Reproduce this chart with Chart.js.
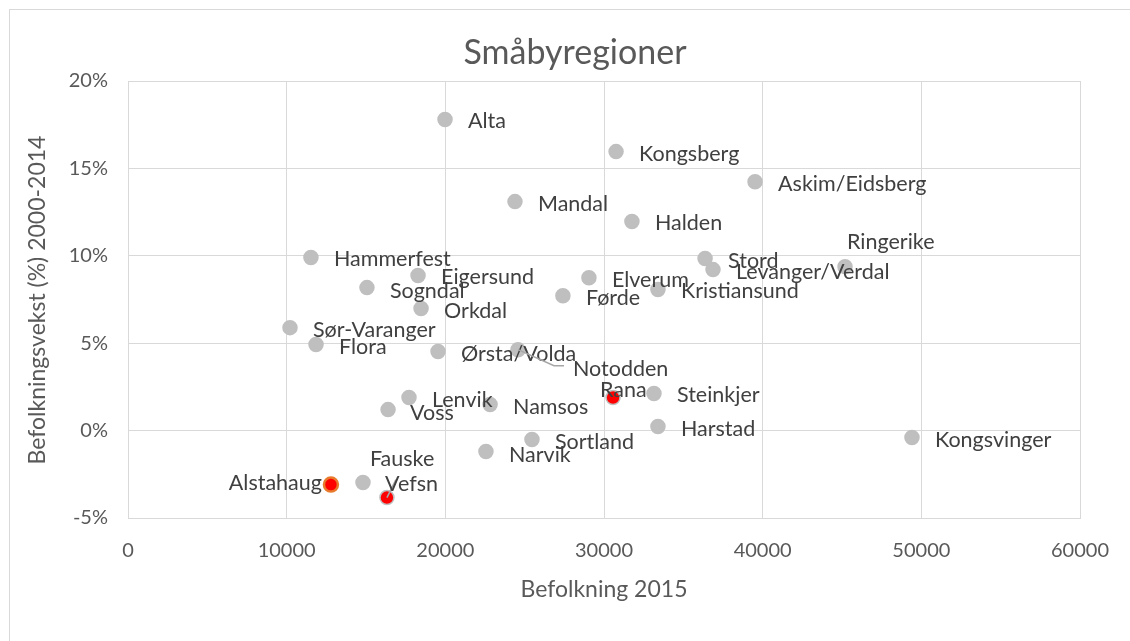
<!DOCTYPE html>
<html>
<head>
<meta charset="utf-8">
<title>Småbyregioner</title>
<script src="https://cdn.jsdelivr.net/npm/chart.js@4"></script>
<style>
  html, body { margin: 0; padding: 0; background: #fff; }
  #wrap { width: 1130px; height: 641px; position: relative; }
</style>
</head>
<body>
<div id="wrap"><canvas id="chart" width="1130" height="641"></canvas></div>
<script>
Chart.defaults.font.family = "Lato, 'Noto Sans', sans-serif";
Chart.defaults.color = '#595959';

// Regions and their values
const regions = [
  'Alta', 'Kongsberg', 'Askim/Eidsberg', 'Mandal', 'Halden', 'Ringerike',
  'Stord', 'Levanger/Verdal', 'Hammerfest', 'Eigersund', 'Sogndal', 'Elverum',
  'Førde', 'Kristiansund', 'Orkdal', 'Sør-Varanger', 'Flora', 'Ørsta/Volda',
  'Notodden', 'Rana', 'Steinkjer', 'Lenvik', 'Namsos', 'Voss', 'Harstad',
  'Kongsvinger', 'Sortland', 'Narvik', 'Fauske', 'Alstahaug', 'Vefsn'
];
const population2015 = [
  19980, 30760, 39520, 24390, 31760, 45190,
  36370, 36870, 11530, 18280, 15060, 29050,
  27410, 33400, 18470, 10210, 11850, 19540,
  24580, 30570, 33150, 17710, 22820, 16390, 33400,
  49410, 25460, 22560, 14810, 12790, 16320
];
const growth2000to2014 = [
  17.8, 15.96, 14.24, 13.1, 11.96, 9.38,
  9.84, 9.21, 9.9, 8.87, 8.18, 8.75,
  7.72, 8.07, 6.98, 5.89, 4.92, 4.52,
  4.63, 1.89, 2.12, 1.89, 1.49, 1.2, 0.23,
  -0.4, -0.51, -1.2, -2.97, -3.09, -3.83
];
const xTicks = [0, 10000, 20000, 30000, 40000, 50000, 60000];
const yTicks = [-5, 0, 5, 10, 15, 20];

// Label placement relative to each marker: [dx, dy, align]
const labelPlacement = {
  'Ringerike': [2, -25, 'left'],
  'Notodden': [55, 19, 'left'],
  'Rana': [-13, -8, 'left'],
  'Fauske': [7, -23, 'left'],
  'Alstahaug': [-9, -2, 'right'],
  'Vefsn': [-2, -13, 'left'],
  'Sogndal': [23, 3, 'left'],
  'Namsos': [23, 3, 'left'],
  'Voss': [22, 3, 'left'],
  'Sortland': [23, 3, 'left'],
  'Narvik': [23, 3, 'left']
};
const leaderLines = {
  'Notodden': [[36, 16], [46, 16]],
  'Vefsn': [[9, -18]]
};

const grey = '#bfbfbf';
const fillFor = name => (name === 'Rana' || name === 'Vefsn' || name === 'Alstahaug') ? '#ff0000' : grey;
const borderFor = name => name === 'Alstahaug' ? '#e87a2c' : grey;

const points = regions.map((r, i) => ({ x: population2015[i], y: growth2000to2014[i] }));

const PLOT = { left: 128, right: 1080, top: 81, bottom: 518 };
const FONT = "Lato, 'Noto Sans', sans-serif";

const decorPlugin = {
  id: 'decor',
  beforeDraw(chart) {
    const ctx = chart.ctx;
    ctx.save();
    ctx.strokeStyle = '#d9d9d9';
    ctx.lineWidth = 1;
    ctx.strokeRect(9.5, 9.5, 1400, 900);
    ctx.restore();
  },
  afterDraw(chart) {
    const ctx = chart.ctx;
    ctx.save();
    ctx.fillStyle = '#595959';
    ctx.textAlign = 'center';
    ctx.textBaseline = 'middle';
    ctx.font = '34px ' + FONT;
    ctx.fillText('Småbyregioner', 575, 53);
    ctx.font = '23px ' + FONT;
    ctx.fillText('Befolkning 2015', 604, 590);
    ctx.translate(38, 300);
    ctx.rotate(-Math.PI / 2);
    ctx.fillText('Befolkningsvekst (%) 2000-2014', 0, 0);
    ctx.restore();
  }
};

const labelPlugin = {
  id: 'pointLabels',
  afterDatasetsDraw(chart) {
    const ctx = chart.ctx;
    const meta = chart.getDatasetMeta(0);
    ctx.save();
    ctx.font = '21.5px ' + FONT;
    ctx.textBaseline = 'middle';
    meta.data.forEach((pt, i) => {
      const name = regions[i];
      const lines = leaderLines[name];
      if (lines) {
        ctx.strokeStyle = '#a6a6a6';
        ctx.lineWidth = 1.5;
        ctx.beginPath();
        ctx.moveTo(pt.x, pt.y);
        lines.forEach(([dx, dy]) => ctx.lineTo(pt.x + dx, pt.y + dy));
        ctx.stroke();
      }
      const [dx, dy, align] = labelPlacement[name] || [23, 2, 'left'];
      ctx.fillStyle = '#404040';
      ctx.textAlign = align;
      ctx.fillText(name, pt.x + dx, pt.y + dy);
    });
    ctx.restore();
  }
};

new Chart(document.getElementById('chart'), {
  type: 'scatter',
  data: {
    datasets: [{
      label: 'Småbyregioner',
      data: points,
      pointRadius: 7,
      pointHoverRadius: 7,
      pointBorderWidth: regions.map(r => r === 'Alstahaug' ? 2.5 : 1.5),
      pointBackgroundColor: regions.map(fillFor),
      pointBorderColor: regions.map(borderFor)
    }]
  },
  options: {
    responsive: false,
    animation: false,
    events: [],
    layout: { padding: { left: 0, top: PLOT.top, right: 1130 - PLOT.right - 3, bottom: 0 } },
    plugins: {
      legend: { display: false },
      title: { display: false },
      tooltip: { enabled: false }
    },
    scales: {
      x: {
        type: 'linear',
        min: xTicks[0],
        max: xTicks[xTicks.length - 1],
        afterBuildTicks: s => { s.ticks = xTicks.map(v => ({ value: v })); },
        afterFit: s => { s.height = 641 - PLOT.bottom; },
        grid: { color: '#d9d9d9', drawTicks: false },
        border: { color: '#d9d9d9' },
        ticks: { padding: 21, font: { size: 20 }, color: '#595959', maxRotation: 0, callback: v => String(v) }
      },
      y: {
        type: 'linear',
        min: yTicks[0],
        max: yTicks[yTicks.length - 1],
        afterBuildTicks: s => { s.ticks = yTicks.map(v => ({ value: v })); },
        afterFit: s => { s.width = PLOT.left; },
        grid: { color: '#d9d9d9', drawTicks: false },
        border: { color: '#d9d9d9' },
        ticks: { padding: 20, font: { size: 20 }, color: '#595959', callback: v => v + '%' }
      }
    }
  },
  plugins: [decorPlugin, labelPlugin]
});
</script>
</body>
</html>
